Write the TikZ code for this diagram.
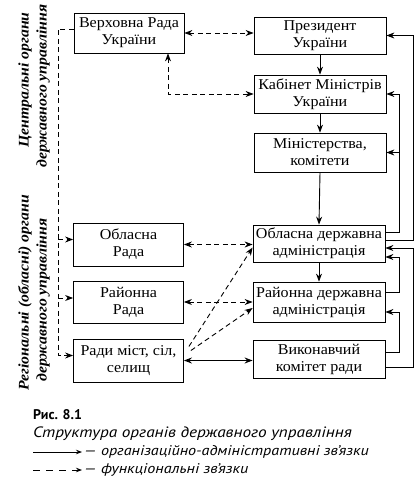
\documentclass[tikz,border=0pt]{standalone}
\usepackage{fontspec}
\setmainfont[FakeStretch=1.07]{Liberation Serif}
\newfontfamily\capfont[FakeStretch=1.15]{PT Sans}
\newfontfamily\figfont{PT Sans}
\usetikzlibrary{arrows.meta,calc}
\begin{document}
\begin{tikzpicture}[x=1pt,y=-1pt,
  box/.style={draw,line width=0.8pt,align=center,inner sep=0pt,
    font=\fontsize{15}{17}\selectfont},
  lbox/.style={box,minimum width=110pt},
  rbox/.style={box,minimum width=132pt},
  tip/.tip={Stealth[length=8pt,width=6pt]},
  org/.style={line width=0.9pt,-tip},
  orgb/.style={line width=1.6pt,tip-tip},
  fun/.style={line width=0.9pt,dash pattern=on 5pt off 3.5pt,-tip},
  funb/.style={fun,tip-tip},
  side/.style={rotate=90,font=\fontsize{14.7}{17}\selectfont\bfseries\itshape},
  captxt/.style={anchor=west,inner sep=0pt,font=\capfont\fontsize{15}{17}\selectfont\itshape},
  legtxt/.style={captxt,font=\capfont\fontsize{14}{16}\selectfont\itshape}]
\useasboundingbox (0,0) rectangle (419,481);

% boxes
\node[lbox,minimum height=40pt] (VR) at (129,33) {Верховна Рада\\України};
\node[rbox,minimum height=37pt] (PR) at (320,35.5) {Президент\\України};
\node[rbox,minimum height=38pt] (KM) at (320,94) {Кабінет Міністрів\\України};
\node[rbox,minimum height=39pt] (MI) at (320,152.5) {Міністерства,\\комітети};
\node[rbox,minimum height=37pt] (ODA) at (319,243.5) {Обласна державна\\адміністрація};
\node[rbox,minimum height=40pt] (RDA) at (319,302) {Районна державна\\адміністрація};
\node[rbox,minimum height=38pt] (VK) at (319,359) {Виконавчий\\комітет ради};
\node[lbox,minimum height=43pt] (OR) at (128.5,244.5) {Обласна\\Рада};
\node[lbox,minimum height=42pt] (RR) at (128.5,302) {Районна\\Рада};
\node[lbox,minimum height=43pt] (RM) at (128.5,360.5) {Ради міст, сіл,\\селищ};

% side labels
\node[side] (s1) at (25,80) {Центральні органи};
\node[side] (s2) at (43,86) {державного управління};
\node[side] (s3) at (25,293) {Регіональні (обласні) органи};
\node[side] (s4) at (43,300) {державного управління};

% helper coordinates
\coordinate (L) at (58,0);
\coordinate (XI) at (399,0);
\coordinate (XO) at (413,0);
\coordinate (XV) at (168,0);
\coordinate (VRw) at ([yshift=4pt]VR.west);
\coordinate (ORw) at ([yshift=5pt]OR.west);
\coordinate (RRw) at ([yshift=4pt]RR.west);
\coordinate (RMw) at ([yshift=5pt]RM.west);

% functional links (dashed)
\draw[funb] (VR.east) -- (VR.east -| PR.west);
\draw[funb] (VR.south -| XV) |- (KM.west);
\draw[fun] (VRw) -| (L |- RMw) -- (RMw);
\draw[fun] (L |- ORw) -- (ORw);
\draw[fun] (L |- RRw) -- (RRw);
\draw[funb] (OR.east) -- (OR.east -| ODA.west);
\draw[funb] (RR.east) -- (RR.east -| RDA.west);
\coordinate (d1) at ([shift={(5pt,14pt)}]RM.east);
\coordinate (d2) at ([shift={(7pt,10pt)}]RM.east);
\draw[fun] (d1) -- ([yshift=-4pt]ODA.west);
\draw[fun] (d2) -- ([yshift=-6pt]RDA.west);

% organisational links (solid)
\draw[org] (PR.south) -- (KM.north);
\draw[org] (KM.south) -- (MI.north);
\draw[org] (MI.south) -- (ODA.north);
\draw[org] (ODA.south) -- (RDA.north);
\draw[orgb] (RM.east) -- (RM.east -| VK.west);

\coordinate (o1) at ([yshift=11.5pt]ODA.east);
\coordinate (o2) at ([yshift=3.5pt]ODA.east);
\coordinate (o3) at ([yshift=-4.5pt]ODA.east);
\coordinate (o4) at ([yshift=-13.5pt]ODA.east);
\coordinate (r1) at ([yshift=10pt]RDA.east);
\coordinate (r2) at ([yshift=-10pt]RDA.east);
\coordinate (v1) at ([yshift=7pt]VK.east);
\coordinate (v2) at ([yshift=-8pt]VK.east);

\draw[org] (o1) -| (XI |- KM.east) -- (KM.east);
\draw[org] (XI |- MI.east) -- (MI.east);
\draw[org] (o2) -| (XO |- PR.east) -- (PR.east);
\draw[org] (v2) -| (XO |- o3) -- (o3);
\draw[org] (r1) -| (XI |- o4) -- (o4);
\draw[org] (v1) -| (XI |- r2) -- (r2);

% caption and legend
\node[anchor=west,inner sep=0pt,font=\figfont\fontsize{14}{16}\selectfont\bfseries] (fig) at (33,415) {Рис. 8.1};
\node[captxt] (ttl) at (33,434) {Структура органів державного управління};
\coordinate (a1) at (33,452);
\coordinate (a2) at (82,452);
\coordinate (b1) at (33,470);
\coordinate (b2) at (82,470);
\draw[line width=0.8pt,-{Stealth[length=6pt,width=4.5pt]}] (a1) -- (a2);
\draw[line width=0.8pt,dash pattern=on 7pt off 6pt,-{Stealth[length=6pt,width=4.5pt]}] (b1) -- (b2);
\node[legtxt] (l1) at (84,452) {— організаційно-адміністративні зв’язки};
\node[legtxt] (l2) at (84,470) {— функціональні зв’язки};
\end{tikzpicture}
\end{document}
